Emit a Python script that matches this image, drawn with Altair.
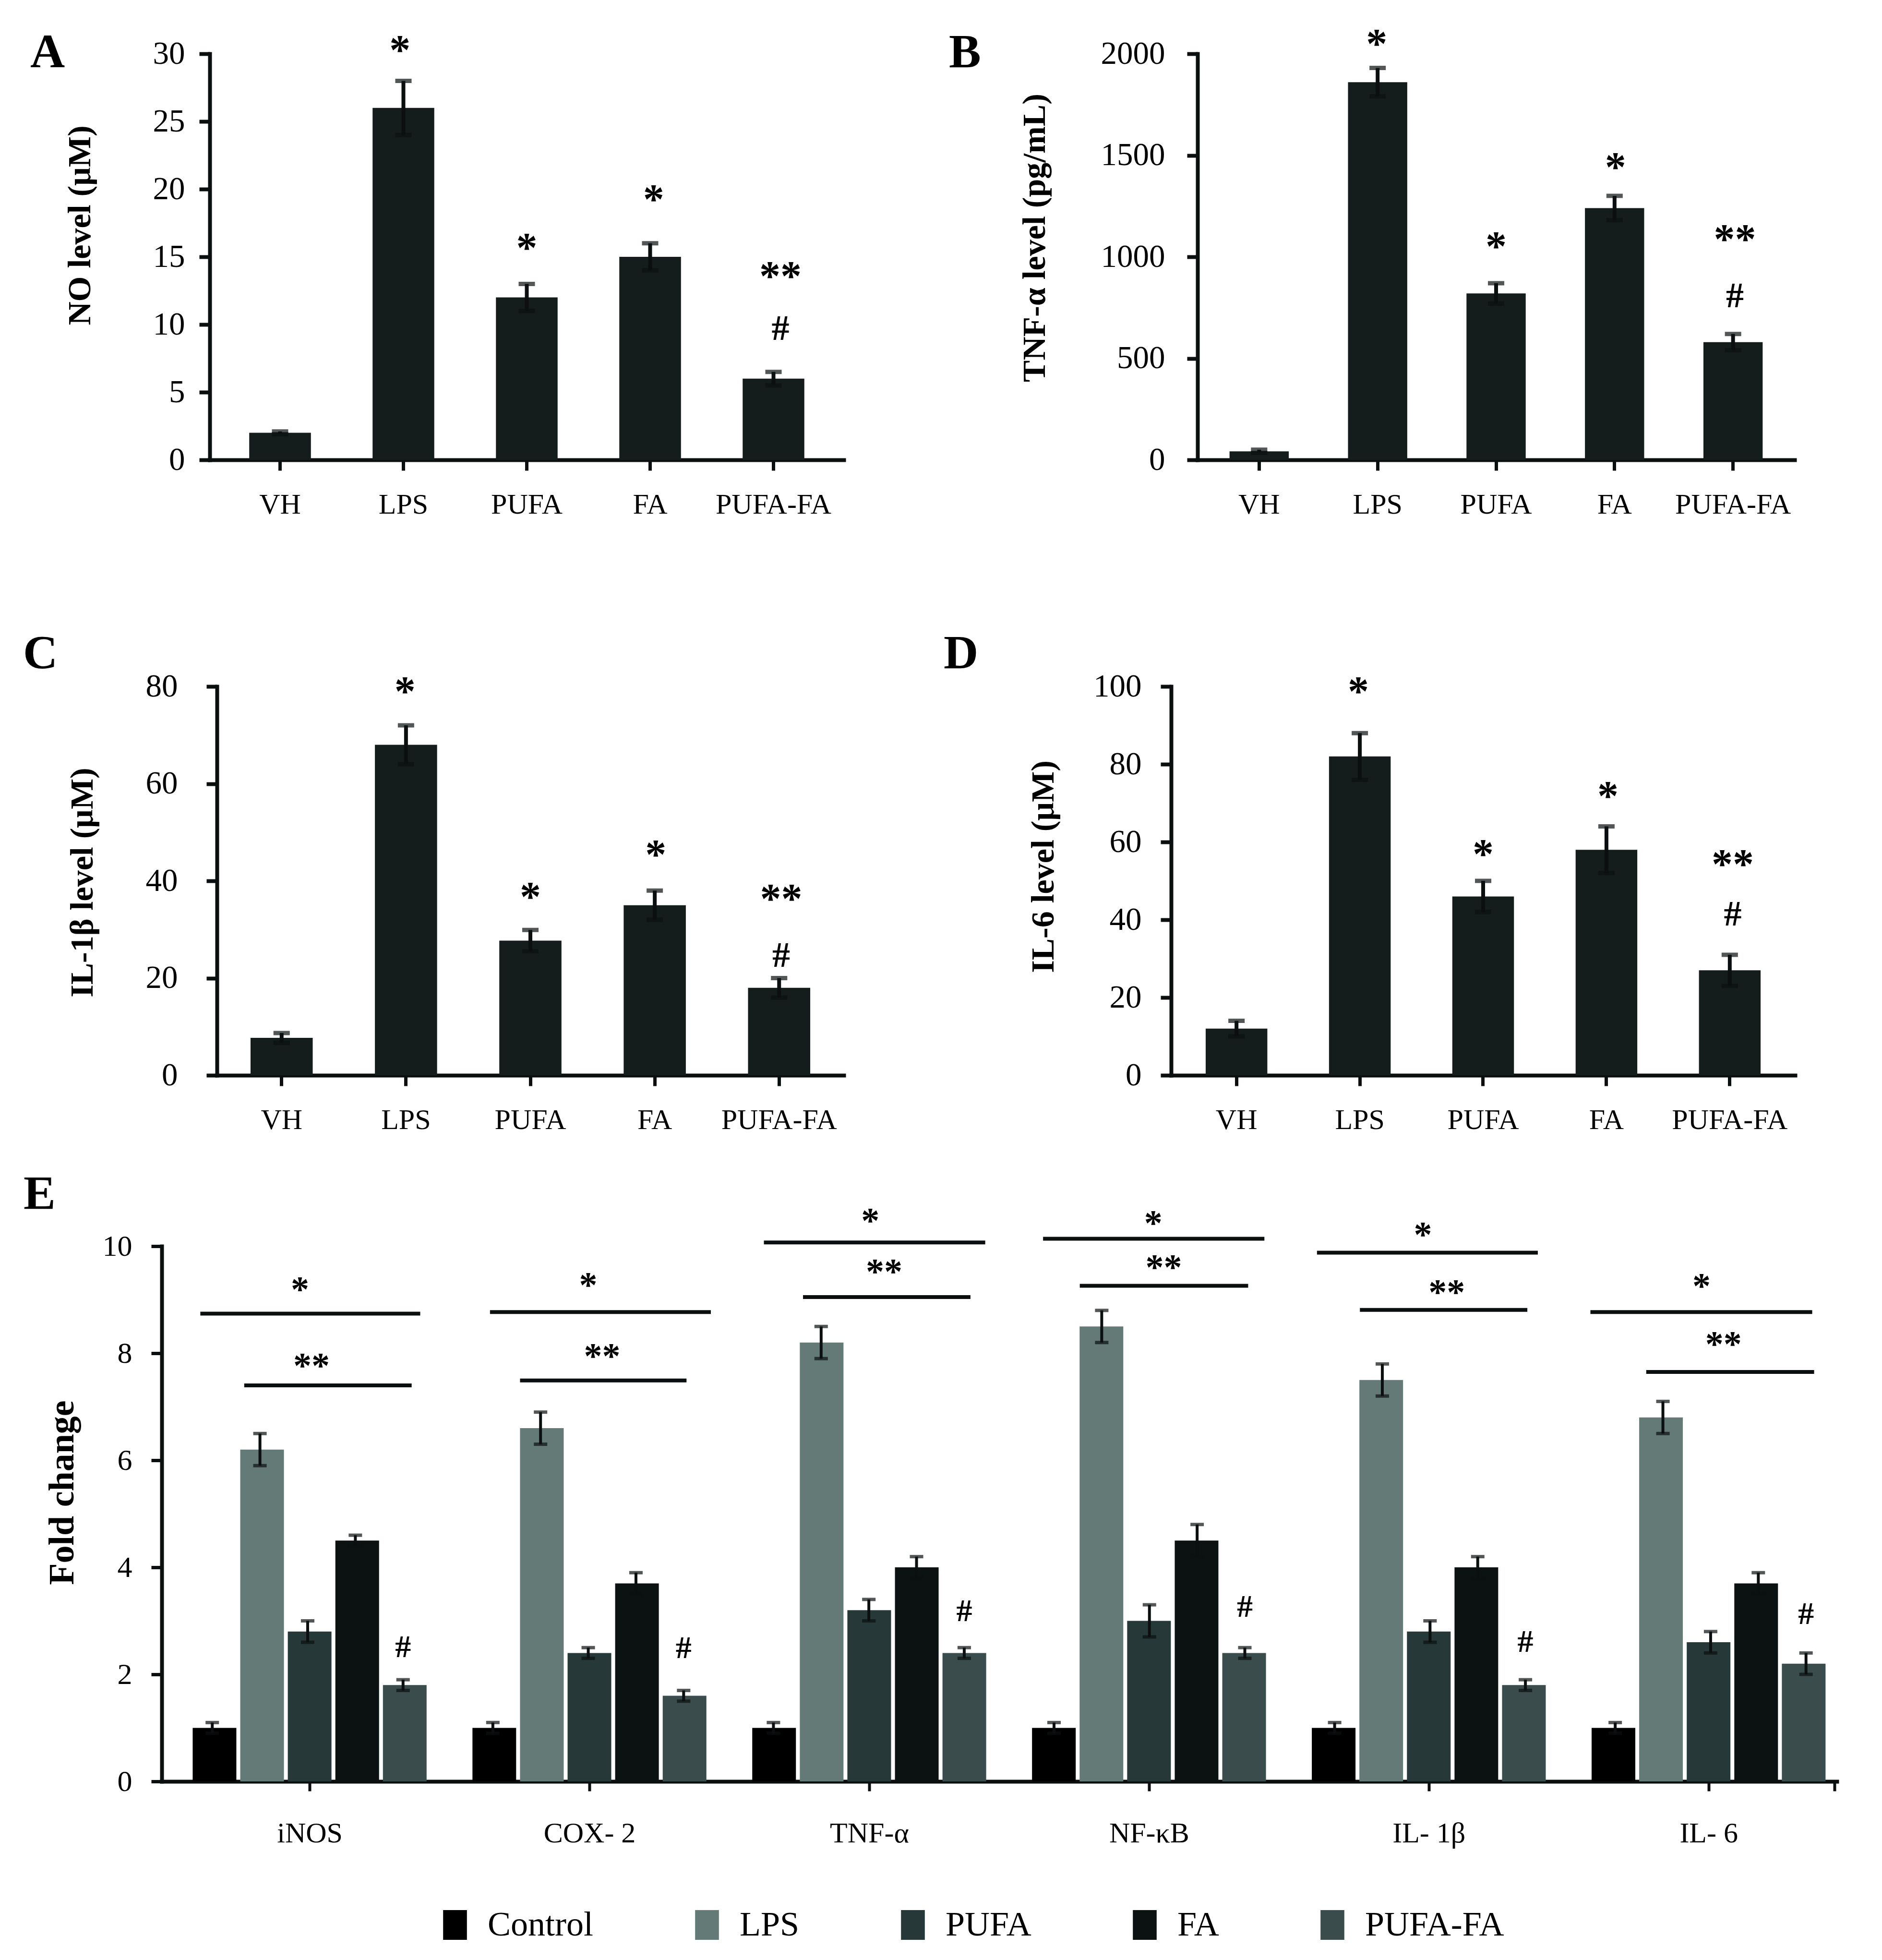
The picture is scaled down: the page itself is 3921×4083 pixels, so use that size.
import altair as alt
import pandas as pd

FONT = "Liberation Serif"
INK = "#0b0f0f"
BAR_DARK = "#141c1c"
PAGE_W, PAGE_H = 3921, 4083

# ---------------- Panels A-D ----------------
groups = ["VH", "LPS", "PUFA", "FA", "PUFA-FA"]

no_mean = [2.0, 26.0, 12.0, 15.0, 6.0]
no_err = [0.1, 2.0, 1.0, 1.0, 0.5]
no_sig = [["*", "LPS", 30.8], ["*", "PUFA", 16.2], ["*", "FA", 19.8],
          ["**", "PUFA-FA", 14.1], ["#", "PUFA-FA", 9.7]]

tnf_mean = [42, 1860, 820, 1240, 580]
tnf_err = [8, 70, 50, 60, 40]
tnf_sig = [["*", "LPS", 2084], ["*", "PUFA", 1088], ["*", "FA", 1478],
           ["**", "PUFA-FA", 1123], ["#", "PUFA-FA", 809]]

il1b_mean = [7.7, 68.0, 27.7, 35.0, 18.0]
il1b_err = [1.0, 4.0, 2.2, 3.0, 2.0]
il1b_sig = [["*", "LPS", 80.5], ["*", "PUFA", 38.2], ["*", "FA", 46.9],
            ["**", "PUFA-FA", 37.8], ["#", "PUFA-FA", 24.7]]

il6_mean = [12, 82, 46, 58, 27]
il6_err = [2, 6, 4, 6, 4]
il6_sig = [["*", "LPS", 100.6], ["*", "PUFA", 58.8], ["*", "FA", 73.7],
           ["**", "PUFA-FA", 56.2], ["#", "PUFA-FA", 41.5]]

# ---------------- Panel E ----------------
genes = ["iNOS", "COX- 2", "TNF-α", "NF-κB", "IL- 1β", "IL- 6"]
treatments = ["Control", "LPS", "PUFA", "FA", "PUFA-FA"]
treatment_colors = ["#000000", "#647a76", "#263838", "#0c1212", "#3a4c4c"]

fold_control = [1.0, 1.0, 1.0, 1.0, 1.0, 1.0]
fold_lps = [6.2, 6.6, 8.2, 8.5, 7.5, 6.8]
fold_pufa = [2.8, 2.4, 3.2, 3.0, 2.8, 2.6]
fold_fa = [4.5, 3.7, 4.0, 4.5, 4.0, 3.7]
fold_pufa_fa = [1.8, 1.6, 2.4, 2.4, 1.8, 2.2]

err_control = [0.1, 0.1, 0.1, 0.1, 0.1, 0.1]
err_lps = [0.3, 0.3, 0.3, 0.3, 0.3, 0.3]
err_pufa = [0.2, 0.1, 0.2, 0.3, 0.2, 0.2]
err_fa = [0.1, 0.2, 0.2, 0.3, 0.2, 0.2]
err_pufa_fa = [0.1, 0.1, 0.1, 0.1, 0.1, 0.2]

# significance brackets: height, span (in bar slots around the group centre),
# label height and label shift (in bar slots)
star_line_y = [8.74, 8.77, 10.07, 10.14, 9.88, 8.77]
star_from = [-2.25, -2.06, -2.20, -2.23, -2.37, -2.52]
star_to = [2.36, 2.57, 2.44, 2.41, 2.26, 2.13]
star_label_y = [9.31, 9.39, 10.59, 10.55, 10.33, 9.37]
star_label_shift = [-0.16, 0.0, 0.03, 0.08, -0.15, -0.19]
dstar_line_y = [7.40, 7.49, 9.05, 9.26, 8.81, 7.65]
dstar_from = [-1.33, -1.43, -1.38, -1.46, -1.47, -1.35]
dstar_to = [2.18, 2.06, 2.13, 2.07, 2.04, 2.17]
dstar_label_y = [7.88, 8.06, 9.64, 9.72, 9.26, 8.29]
dstar_label_shift = [0.08, 0.29, 0.32, 0.30, 0.35, 0.27]
hash_y = [2.52, 2.50, 3.19, 3.27, 2.62, 3.14]

SLOT = 0.17  # distance between neighbouring bars, in group units


def letter_layer(letter, lx, ly):
    return alt.Chart(pd.DataFrame({"t": [letter]})).mark_text(
        font=FONT, fontSize=100, fontWeight="bold", color="black",
        align="left", baseline="alphabetic"
    ).encode(x=alt.value(lx), y=alt.value(ly), text="t:N")


def panel(letter, lx, ly, means, errs, sig, title, ymax, ystep,
          xr, yr, pad_outer, title_x, title_y, label_pad):
    """xr / yr: pixel ranges of the panel's x and y scales on the page."""
    df = pd.DataFrame({"group": groups, "mean": means, "err": errs})
    df["lo"] = df["mean"] - df["err"]
    df["hi"] = df["mean"] + df["err"]
    sdf = pd.DataFrame(sig, columns=["sym", "group", "pos"])

    xs = alt.Scale(domain=groups, range=xr, paddingInner=0.5, paddingOuter=pad_outer)
    xa = alt.Axis(title=None, orient="bottom", offset=yr[0] - PAGE_H, labelAngle=0,
                  labelFont=FONT, labelFontSize=60, labelColor="black", labelPadding=42,
                  labelLimit=1000, tickSize=22, tickWidth=7, tickColor=INK,
                  domainWidth=8, domainColor=INK, domainCap="square", grid=False)
    ys = alt.Scale(domain=[0, ymax], range=yr, nice=False, zero=True)
    ya = alt.Axis(title=title, orient="left", offset=-xr[0],
                  values=list(range(0, ymax + 1, ystep)), format="d", grid=False,
                  labelFont=FONT, labelFontSize=67, labelColor="black",
                  labelPadding=label_pad, tickSize=22, tickWidth=8, tickColor=INK,
                  domainWidth=8, domainColor=INK, domainCap="square",
                  titleFont=FONT, titleFontSize=68, titleFontWeight="bold",
                  titleColor="black", titleX=title_x, titleY=title_y,
                  titleAngle=270, titleAlign="center", titleBaseline="middle")

    def X(ax=False):
        return alt.X("group:N", scale=xs, axis=xa if ax else None)

    def Y(f, ax=False):
        return alt.Y(f, scale=ys, axis=ya if ax else None)

    base = alt.Chart(df)
    bars = base.mark_bar(color=BAR_DARK).encode(x=X(True), y=Y("mean:Q", True))
    stems = base.mark_rule(color=INK, strokeWidth=8).encode(x=X(), y=Y("lo:Q"), y2=alt.Y2("hi:Q"))
    cap_hi = base.mark_tick(color=INK, size=34, thickness=9).encode(x=X(), y=Y("hi:Q"))
    cap_lo = base.mark_tick(color=INK, size=34, thickness=9).encode(x=X(), y=Y("lo:Q"))
    sbase = alt.Chart(sdf)
    stars = sbase.transform_filter("datum.sym != '#'").mark_text(
        font=FONT, fontSize=88, fontWeight="bold", color="black", baseline="middle", dy=18
    ).encode(x=X(), y=Y("pos:Q"), text="sym:N")
    hashes = sbase.transform_filter("datum.sym == '#'").mark_text(
        font=FONT, fontSize=74, fontWeight="bold", color="black", baseline="middle", dy=2
    ).encode(x=X(), y=Y("pos:Q"), text="sym:N")
    return [bars, stems, cap_hi, cap_lo, stars, hashes, letter_layer(letter, lx, ly)]


layers = []
layers += panel("A", 63, 140, no_mean, no_err, no_sig, "NO level (μM)", 30, 5,
                [437, 1758], [958, 112], 0.32, -270, 469, 30)
layers += panel("B", 1977, 140, tnf_mean, tnf_err, tnf_sig, "TNF-α level (pg/mL)", 2000, 500,
                [2495, 3739], [958, 112], 0.27, -339, 495, 46)
layers += panel("C", 48, 1392, il1b_mean, il1b_err, il1b_sig, "IL-1β level (μM)", 80, 20,
                [452, 1758], [2240, 1430], 0.27, -280, 1838, 60)
layers += panel("D", 1966, 1392, il6_mean, il6_err, il6_sig, "IL-6 level (μM)", 100, 20,
                [2440, 3740], [2240, 1430], 0.28, -266, 1805, 40)

# ---------- Panel E ----------
means_e = [fold_control, fold_lps, fold_pufa, fold_fa, fold_pufa_fa]
errs_e = [err_control, err_lps, err_pufa, err_fa, err_pufa_fa]
rows = []
for j, t in enumerate(treatments):
    for i, g in enumerate(genes):
        rows.append({"gene": g, "treatment": t, "value": means_e[j][i],
                     "lo": means_e[j][i] - errs_e[j][i], "hi": means_e[j][i] + errs_e[j][i],
                     "xpos": i + (j - 2) * SLOT})
edf = pd.DataFrame(rows)

lines = []
for i in range(len(genes)):
    lines.append({"x1": i + star_from[i] * SLOT, "x2": i + star_to[i] * SLOT, "y": star_line_y[i]})
    lines.append({"x1": i + dstar_from[i] * SLOT, "x2": i + dstar_to[i] * SLOT, "y": dstar_line_y[i]})
ldf = pd.DataFrame(lines)

labels = []
for i in range(len(genes)):
    labels.append({"sym": "*", "x": i + star_label_shift[i] * SLOT, "y": star_label_y[i]})
    labels.append({"sym": "**", "x": i + dstar_label_shift[i] * SLOT, "y": dstar_label_y[i]})
    labels.append({"sym": "#", "x": i + 2 * SLOT, "y": hash_y[i]})
tdf = pd.DataFrame(labels)

E_X = [337, 3827]
E_Y = [3711, 2596]
label_expr = "datum.value <= 5 ? " + str(genes).replace('"', "'") + "[datum.value] : ''"
xs_e = alt.Scale(domain=[-0.52, 5.45], range=E_X, nice=False, zero=False)
xa_e = alt.Axis(title=None, orient="bottom", offset=E_Y[0] - PAGE_H,
                values=[0, 1, 2, 3, 4, 5, 5.45], labelExpr=label_expr, grid=False,
                labelFont=FONT, labelFontSize=60, labelColor="black", labelPadding=59,
                labelAngle=0, labelLimit=1000, tickSize=20, tickWidth=6, tickColor=INK,
                domainWidth=8, domainColor=INK, domainCap="square", labelFlush=False,
                labelOverlap=False)
ys_e = alt.Scale(domain=[0, 10], range=E_Y, nice=False)
ya_e = alt.Axis(title="Fold change", orient="left", offset=-E_X[0],
                values=[0, 2, 4, 6, 8, 10], grid=False,
                labelFont=FONT, labelFontSize=62, labelColor="black", labelPadding=40,
                tickSize=22, tickWidth=7, tickColor=INK, domainWidth=8, domainColor=INK,
                domainCap="square", titleFont=FONT, titleFontSize=74, titleFontWeight="bold",
                titleColor="black", titleX=-207, titleY=3109, titleAngle=270,
                titleAlign="center", titleBaseline="middle")


def XE(f, ax=False):
    return alt.X(f, scale=xs_e, axis=xa_e if ax else None)


def YE(f, ax=False):
    return alt.Y(f, scale=ys_e, axis=ya_e if ax else None)


ebase = alt.Chart(edf)
e_bars = ebase.mark_bar(size=91, orient="vertical").encode(
    x=XE("xpos:Q", True), y=YE("value:Q", True),
    color=alt.Color("treatment:N", sort=treatments,
                    scale=alt.Scale(domain=treatments, range=treatment_colors),
                    legend=alt.Legend(title=None, orient="none", legendX=912, legendY=3974,
                                      direction="horizontal", columns=5,
                                      symbolType="M-0.8,-1H0.8V1H-0.8Z", symbolSize=3844,
                                      symbolStrokeWidth=0, symbolOpacity=1,
                                      labelFont=FONT, labelFontSize=72, labelColor="black",
                                      labelOffset=32, columnPadding=200, padding=0,
                                      labelLimit=1000)),
)
e_stems = ebase.mark_rule(color=INK, strokeWidth=6).encode(x=XE("xpos:Q"), y=YE("lo:Q"), y2=alt.Y2("hi:Q"))
e_cap_hi = ebase.mark_tick(color=INK, size=28, thickness=7, orient="horizontal").encode(x=XE("xpos:Q"), y=YE("hi:Q"))
e_cap_lo = ebase.mark_tick(color=INK, size=28, thickness=7, orient="horizontal").encode(x=XE("xpos:Q"), y=YE("lo:Q"))
e_lines = alt.Chart(ldf).mark_rule(color=INK, strokeWidth=8).encode(
    x=XE("x1:Q"), x2=alt.X2("x2:Q"), y=YE("y:Q"))
tbase = alt.Chart(tdf)
e_stars = tbase.transform_filter("datum.sym != '#'").mark_text(
    font=FONT, fontSize=76, fontWeight="bold", color="black", baseline="middle", dy=15
).encode(x=XE("x:Q"), y=YE("y:Q"), text="sym:N")
e_hash = tbase.transform_filter("datum.sym == '#'").mark_text(
    font=FONT, fontSize=66, fontWeight="bold", color="black", baseline="middle", dy=2
).encode(x=XE("x:Q"), y=YE("y:Q"), text="sym:N")

layers += [e_bars, e_stems, e_cap_hi, e_cap_lo, e_lines, e_stars, e_hash,
           letter_layer("E", 49, 2518)]

chart = alt.layer(*layers).resolve_scale(
    x="independent", y="independent", color="independent"
).resolve_axis(
    x="independent", y="independent"
).properties(
    width=PAGE_W, height=PAGE_H, padding=0,
    autosize=alt.AutoSizeParams(type="none"),
    background="white",
).configure_view(stroke=None)

chart.save("out.html", embed_options={"renderer": "svg", "actions": False})
